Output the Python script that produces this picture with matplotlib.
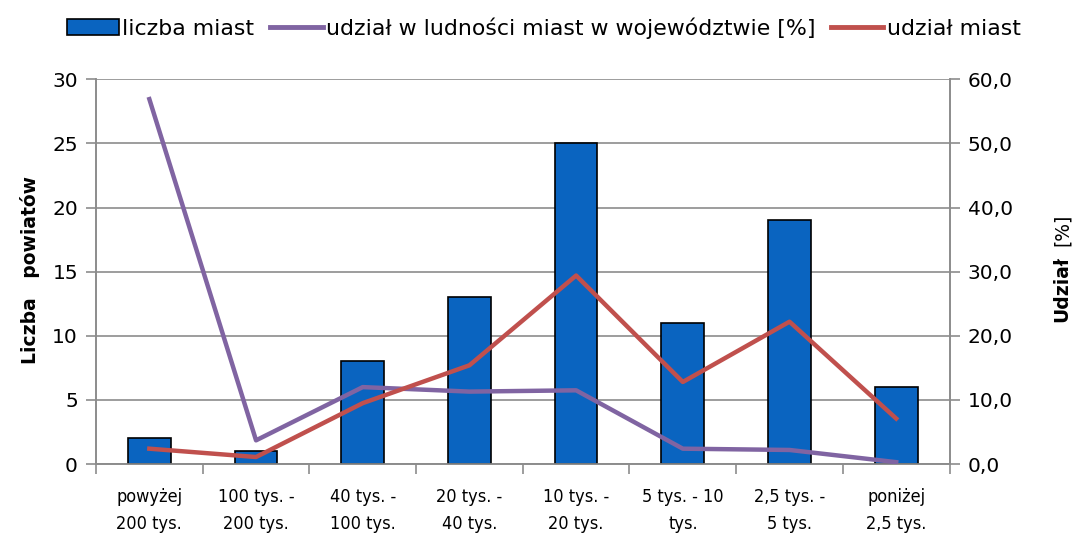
import numpy as np
import matplotlib.pyplot as plt
from matplotlib.patches import Patch
from matplotlib.lines import Line2D

plt.rcParams['font.family'] = ['DejaVu Sans']

kategorie = ['powyżej\n200 tys.', '100 tys. -\n200 tys.', '40 tys. -\n100 tys.',
             '20 tys. -\n40 tys.', '10 tys. -\n20 tys.', '5 tys. - 10\ntys.',
             '2,5 tys. -\n5 tys.', 'poniżej\n2,5 tys.']
liczba_miast = [2, 1, 8, 13, 25, 11, 19, 6]
udzial_ludnosci = [56.9, 3.7, 12.0, 11.3, 11.5, 2.4, 2.2, 0.3]
udzial_miast = [2.4, 1.1, 9.5, 15.4, 29.4, 12.8, 22.2, 7.1]

fig = plt.figure(figsize=(10.75, 5.39), dpi=100)
ax = fig.add_axes([0.0893, 0.139, 0.794, 0.714])
ax2 = ax.twinx()

x = np.arange(len(kategorie))
ax.bar(x, liczba_miast, width=0.4, color='#0a64c0', edgecolor='black', linewidth=1.2, zorder=3)
ax.set_xlim(-0.5, len(kategorie) - 0.5)
ax.set_ylim(0, 30)
ax.set_yticks(range(0, 31, 5))
ax.grid(axis='y', color='#8c8c8c', linewidth=1.2, zorder=0)
ax.set_axisbelow(True)

ax2.plot(x, udzial_ludnosci, color='#8064a2', linewidth=3.2, zorder=4)
ax2.plot(x, udzial_miast, color='#c0504d', linewidth=3.2, zorder=5)
ax2.set_ylim(0, 60)
ax2.set_yticks(range(0, 61, 10))
ax2.set_yticklabels([f'{v},0' for v in range(0, 61, 10)])

# podzialki miedzy kategoriami
ax.set_xticks(np.arange(-0.5, len(kategorie), 1.0))
ax.set_xticklabels([])
ax.set_xticks(x, minor=True)
ax.set_xticklabels(kategorie, minor=True, fontsize=13, fontstretch='condensed', linespacing=1.65)
ax.tick_params(axis='x', which='minor', length=0, pad=17)
ax.tick_params(axis='x', which='major', length=7, color='#8c8c8c', width=1.2)
ax.tick_params(axis='y', length=7, color='#8c8c8c', width=1.2, labelsize=14.5, pad=6)
ax2.tick_params(axis='y', length=7, color='#8c8c8c', width=1.2, labelsize=14.5, pad=6)

for a in (ax, ax2):
    a.spines['top'].set_visible(False)
    for s in ('left', 'right', 'bottom'):
        a.spines[s].set_color('#8c8c8c')
        a.spines[s].set_linewidth(1.2)

fig.text(0.028, 0.5, 'Liczba   powiatów', rotation=90, fontsize=13.5, fontweight='bold',
         ha='center', va='center')
fig.text(0.988, 0.463, 'Udział', rotation=90, fontsize=13.5, fontweight='bold',
         ha='center', va='center')
fig.text(0.988, 0.573, '[%]', rotation=90, fontsize=13.5, ha='center', va='center')

uchwyty = [Patch(facecolor='#0a64c0', edgecolor='black', linewidth=1.2),
           Line2D([], [], color='#8064a2', linewidth=3.5),
           Line2D([], [], color='#c0504d', linewidth=3.5)]
fig.legend(uchwyty, ['liczba miast', 'udział w ludności miast w województwie [%]', 'udział miast'],
           loc='center', bbox_to_anchor=(0.5056, 0.948), ncol=3, frameon=False,
           handlelength=2.4, handleheight=0.7, handletextpad=0.15,
           columnspacing=0.7, prop={'size': 15.8})

fig.savefig('out.png', dpi=100)
